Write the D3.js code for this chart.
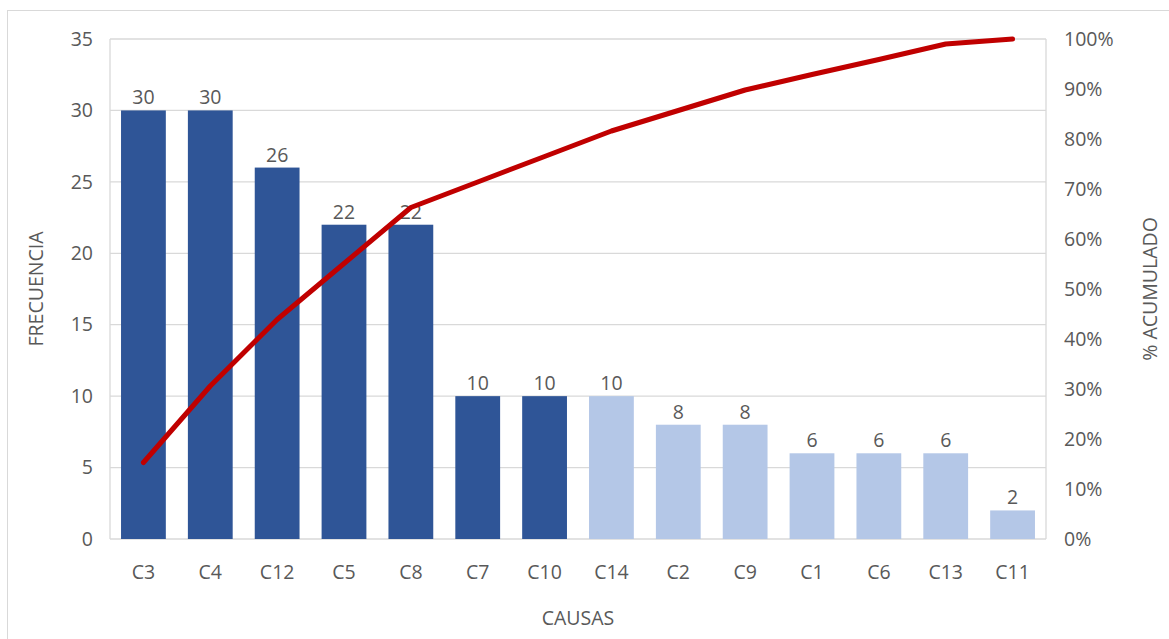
<!DOCTYPE html>
<html>
<head>
<meta charset="utf-8">
<script src="https://cdn.jsdelivr.net/npm/d3@7"></script>
<style>
  body { margin: 0; background: #fff; }
  text { font-family: "Open Sans", "Liberation Sans", sans-serif; fill: #595959; }
</style>
</head>
<body>
<div class="pareto"></div>
<script>
// chart data
const causas = ["C3","C4","C12","C5","C8","C7","C10","C14","C2","C9","C1","C6","C13","C11"]
const frecuencia = [30,30,26,22,22,10,10,10,8,8,6,6,6,2]
const acumulado = [15.3,30.6,43.9,55.1,66.3,71.4,76.5,81.6,85.7,89.8,92.9,95.9,99.0,100]
const vitales = 7   // first causes drawn in dark blue
const yTicks = [0,5,10,15,20,25,30,35]
const pTicks = [0,10,20,30,40,50,60,70,80,90,100]

const w = 1169
const h = 639
const m = {left: 110, right: 123, top: 39, bottom: 100}

const svg = d3.select(".pareto")
  .append("svg")
    .attr("width", w)
    .attr("height", h)

// outer chart frame
svg.append("rect")
  .attr("x", 7.5).attr("y", 10.5)
  .attr("width", w).attr("height", h)
  .attr("fill", "none").attr("stroke", "#d9d9d9")

const x = d3.scaleBand()
  .domain(causas)
  .range([m.left, w - m.right])
  .paddingInner(0.33)
  .paddingOuter(0.165)

const y = d3.scaleLinear().domain([0, 35]).range([h - m.bottom, m.top])
const p = d3.scaleLinear().domain([0, 100]).range([h - m.bottom, m.top])

// gridlines
svg.append("g")
  .selectAll("line")
  .data(yTicks)
  .join("line")
    .attr("x1", m.left).attr("x2", w - m.right)
    .attr("y1", d => y(d)).attr("y2", d => y(d))
    .attr("stroke", "#d9d9d9").attr("stroke-width", 1.3)

// axis lines left / right
svg.append("line")
  .attr("x1", m.left).attr("x2", m.left)
  .attr("y1", y(35)).attr("y2", y(0))
  .attr("stroke", "#d9d9d9").attr("stroke-width", 1.3)
svg.append("line")
  .attr("x1", w - m.right).attr("x2", w - m.right)
  .attr("y1", y(35)).attr("y2", y(0))
  .attr("stroke", "#d9d9d9").attr("stroke-width", 1.3)

// bars
svg.append("g")
  .selectAll("rect")
  .data(frecuencia)
  .join("rect")
    .attr("x", (d, i) => x(causas[i]))
    .attr("y", d => y(d))
    .attr("width", x.bandwidth())
    .attr("height", d => y(0) - y(d))
    .attr("fill", (d, i) => i < vitales ? "#2f5597" : "#b4c7e7")

// value labels
svg.append("g")
  .selectAll("text")
  .data(frecuencia)
  .join("text")
    .attr("x", (d, i) => x(causas[i]) + x.bandwidth() / 2)
    .attr("y", d => y(d) - 6)
    .attr("text-anchor", "middle")
    .attr("font-size", 19.5)
    .text(d => d)

// cumulative line
const line = d3.line()
  .x((d, i) => x(causas[i]) + x.bandwidth() / 2)
  .y(d => p(d))

svg.append("path")
  .datum(acumulado)
  .attr("d", line)
  .attr("fill", "none")
  .attr("stroke", "#c00000")
  .attr("stroke-width", 5)
  .attr("stroke-linecap", "round")
  .attr("stroke-linejoin", "round")

// left axis
const yAxis = svg.append("g")
  .attr("transform", `translate(${m.left - 17},0)`)
  .call(d3.axisLeft(y).tickValues(yTicks).tickSize(0).tickPadding(0))
yAxis.select(".domain").remove()
yAxis.selectAll("text").attr("font-size", 19.5).attr("fill", "#595959").attr("font-family", null)

// right axis
const pAxis = svg.append("g")
  .attr("transform", `translate(${w - m.right + 18},0)`)
  .call(d3.axisRight(p).tickValues(pTicks).tickFormat(d => d + "%").tickSize(0).tickPadding(0))
pAxis.select(".domain").remove()
pAxis.selectAll("text").attr("font-size", 19.5).attr("fill", "#595959").attr("font-family", null)

// category axis
const xAxis = svg.append("g")
  .attr("transform", `translate(0,${h - m.bottom + 22})`)
  .call(d3.axisBottom(x).tickSize(0).tickPadding(0))
xAxis.select(".domain").remove()
xAxis.selectAll("text").attr("font-size", 19.5).attr("fill", "#595959").attr("font-family", null).attr("dy", "0.9em")

// axis titles
svg.append("text")
  .attr("transform", `translate(43,${(y(0) + y(35)) / 2}) rotate(-90)`)
  .attr("text-anchor", "middle")
  .attr("font-size", 19.5)
  .text("FRECUENCIA")

svg.append("text")
  .attr("transform", `translate(1157,${(y(0) + y(35)) / 2}) rotate(-90)`)
  .attr("text-anchor", "middle")
  .attr("font-size", 19.5)
  .text("% ACUMULADO")

svg.append("text")
  .attr("x", (m.left + w - m.right) / 2)
  .attr("y", 625)
  .attr("text-anchor", "middle")
  .attr("font-size", 19.5)
  .text("CAUSAS")
</script>
</body>
</html>
